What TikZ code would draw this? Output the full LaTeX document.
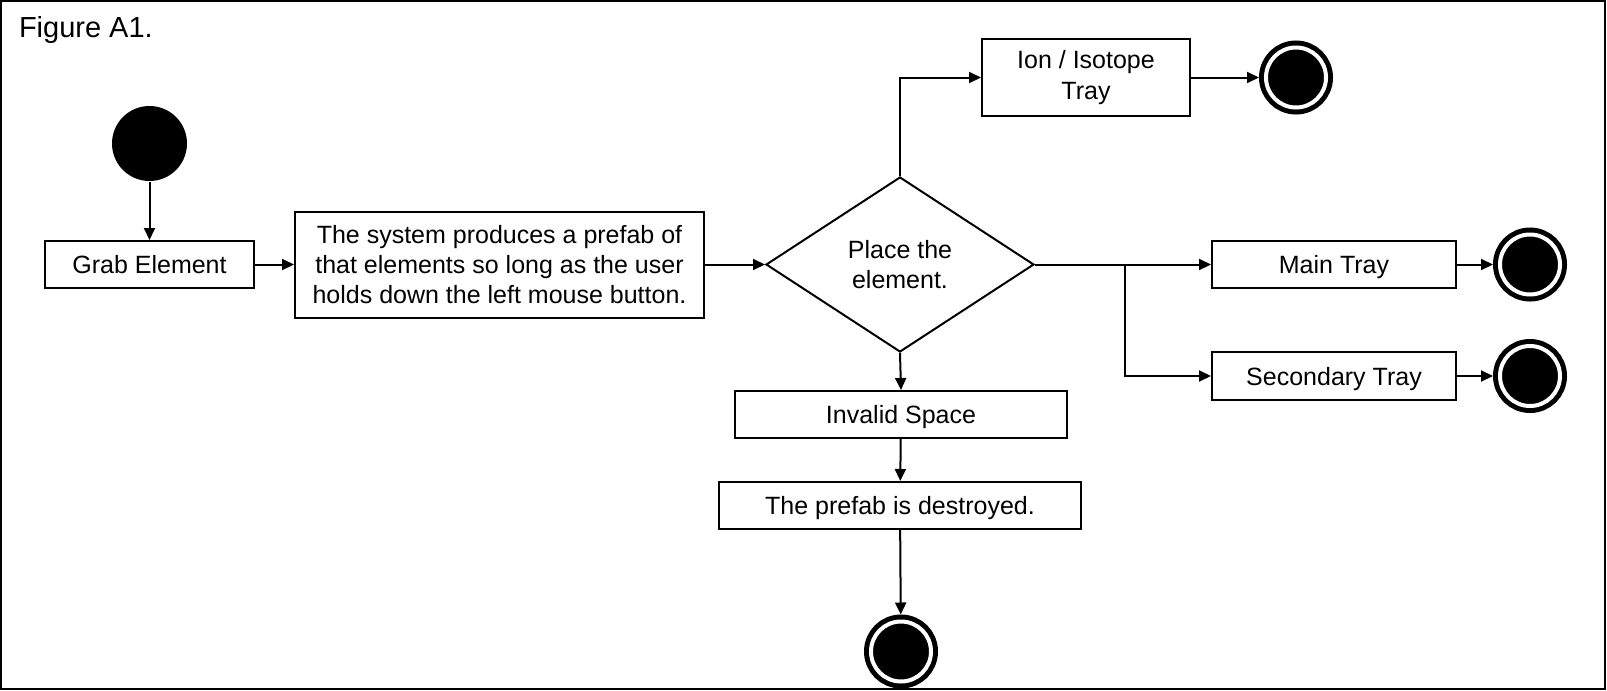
\documentclass[tikz,border=0pt]{standalone}
\usepackage{fontspec}
\setmainfont{Liberation Sans}
\usetikzlibrary{arrows.meta, positioning, calc, shapes.geometric}

\begin{document}
\begin{tikzpicture}[x=0.5pt, y=-0.5pt, action/.style={rectangle,draw,line width=1pt,inner sep=0pt,minimum height=23.5pt,align=center,font=\fontsize{12.5}{14.9}\selectfont}, oneline/.style={text height=0.9em, text depth=0pt}, decision/.style={diamond,draw,line width=1pt,inner sep=0pt,minimum width=134pt,minimum height=87.5pt,align=center,font=\fontsize{12.5}{15}\selectfont}, initial/.style={circle,fill=black,minimum size=37.5pt,inner sep=0pt}, final/.style={circle,draw,fill=black,double=white,double distance=2pt,line width=2.5pt,minimum size=30pt,inner sep=0pt,outer sep=3.5pt}, ->, >={Triangle[length=6pt,width=5.5pt]}, line width=1pt]
        \useasboundingbox (0,0) rectangle (1607,691);
        \draw[-] (1,1) rectangle (1605,689);
        \node[anchor=base west, inner sep=0pt, font=\fontsize{14.5}{16}\selectfont] (title) at (18,37) {Figure A1.};

        \node[initial] (init) at (149.5,143.5) {};
        \node[action, oneline, minimum width=104.5pt] (grab) at (149.5,264.5) {Grab Element};
        \node[action, minimum width=204.5pt, minimum height=53pt] (prefab) at (499.5,264.5) {The system produces a prefab of\\that elements so long as the user\\holds down the left mouse button.};
        \node[decision] (place) at (900,264.5) {Place the\\element.};
        \node[action, minimum width=104pt, minimum height=38.5pt, font=\fontsize{12.5}{15.5}\selectfont] (ion) at (1086,77.5) {Ion / Isotope\\Tray};
        \node[final] (f1) at (1296,77.5) {};
        \node[action, oneline, minimum width=122pt] (main) at (1334,264.5) {Main Tray};
        \node[final] (f2) at (1530,264.5) {};
        \node[action, oneline, minimum width=122pt, minimum height=24pt] (second) at (1334,376) {Secondary Tray};
        \node[final] (f3) at (1530,376) {};
        \node[action, oneline, minimum width=166pt] (invalid) at (901,414.5) {Invalid Space};
        \node[action, oneline, minimum width=181pt] (destroy) at (900,505.5) {The prefab is destroyed.};
        \node[final] (f4) at (901,651.5) {};
        \coordinate (split) at (1125,264.5);

        \draw (init) -- (grab);
        \draw (grab) -- (prefab);
        \draw (prefab) -- (place);
        \draw (place.north) |- (ion.west);
        \draw (ion) -- (f1);
        \draw (place.east) -- (main.west);
        \draw (split) |- (second.west);
        \draw (main) -- (f2);
        \draw (second) -- (f3);
        \draw (place.south) -- (invalid.north);
        \draw (invalid) -- (destroy);
        \draw (destroy) -- (f4);
    \end{tikzpicture}
\end{document}
